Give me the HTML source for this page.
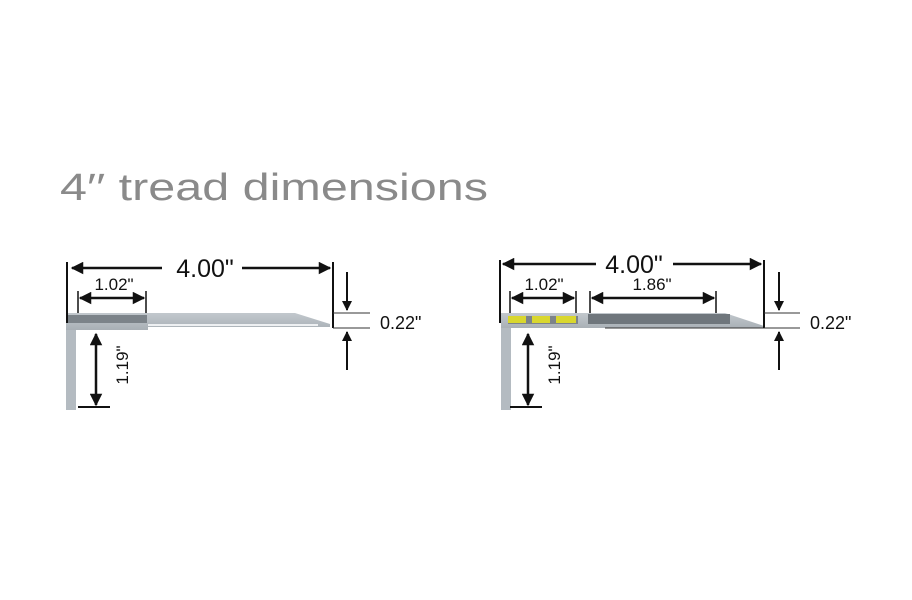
<!DOCTYPE html>
<html><head><meta charset="utf-8"><style>
html,body{margin:0;padding:0;background:#fff;width:912px;height:600px;overflow:hidden}
svg{display:block}
text{font-family:"Liberation Sans",sans-serif}
</style></head><body>
<svg width="912" height="600" viewBox="0 0 912 600" xmlns="http://www.w3.org/2000/svg">
<defs>
<marker id="a" viewBox="0 0 10 10" refX="9" refY="5" markerWidth="5.5" markerHeight="5" orient="auto-start-reverse">
<path d="M0,0 L10,5 L0,10 z" fill="#111"/></marker>
<linearGradient id="g" x1="0" x2="0" y1="0" y2="1"><stop offset="0" stop-color="#c2c8cd"/><stop offset="1" stop-color="#a9b0b6"/></linearGradient>
</defs>
<text x="60" y="200" font-size="38" fill="#8a8a8a" textLength="428" lengthAdjust="spacingAndGlyphs">4′′ tread dimensions</text>

<!-- LEFT -->
<g>
<rect x="66" y="313" width="10" height="97" fill="#b4bbc1"/>
<path d="M66,313 L295,313 L330,324 L330,327 L148,327 L148,330 L66,330 z" fill="url(#g)"/>
<rect x="68" y="315" width="79" height="8" fill="#7c8389"/>
<rect x="148" y="324" width="170" height="2" fill="#eef0f2"/>
<line x1="67" y1="262" x2="67" y2="323" stroke="#111" stroke-width="2"/>
<line x1="333" y1="262" x2="333" y2="328" stroke="#111" stroke-width="2"/>
<line x1="72" y1="268" x2="162" y2="268" stroke="#111" stroke-width="2.5" marker-start="url(#a)"/>
<line x1="242" y1="268" x2="330" y2="268" stroke="#111" stroke-width="2.5" marker-end="url(#a)"/>
<text x="205" y="277" font-size="25" text-anchor="middle" fill="#111">4.00"</text>
<line x1="78" y1="291" x2="78" y2="313" stroke="#111" stroke-width="1.5"/>
<line x1="146" y1="291" x2="146" y2="313" stroke="#111" stroke-width="1.5"/>
<line x1="80" y1="298" x2="144" y2="298" stroke="#111" stroke-width="2.5" marker-start="url(#a)" marker-end="url(#a)"/>
<text x="114" y="290" font-size="17" text-anchor="middle" fill="#111">1.02"</text>
<line x1="333" y1="313" x2="370" y2="313" stroke="#333" stroke-width="1"/>
<line x1="333" y1="328" x2="370" y2="328" stroke="#333" stroke-width="1"/>
<line x1="347" y1="272" x2="347" y2="310" stroke="#111" stroke-width="2" marker-end="url(#a)"/>
<line x1="347" y1="370" x2="347" y2="332" stroke="#111" stroke-width="2" marker-end="url(#a)"/>
<text x="380" y="329" font-size="18" fill="#111">0.22"</text>
<line x1="96" y1="334" x2="96" y2="405" stroke="#111" stroke-width="2.5" marker-start="url(#a)" marker-end="url(#a)"/>
<line x1="78" y1="407" x2="110" y2="407" stroke="#111" stroke-width="2"/>
<text transform="translate(128,365) rotate(-90)" font-size="17" text-anchor="middle" fill="#111">1.19"</text>
</g>

<!-- RIGHT -->
<g>
<rect x="501" y="313" width="10" height="97" fill="#b4bbc1"/>
<path d="M501,313 L725,313 L764,326 L764,328 L501,328 z" fill="url(#g)"/>
<rect x="508" y="316" width="70" height="8" fill="#7c8389"/>
<rect x="508" y="316" width="18" height="7" fill="#d9d72e"/>
<rect x="532" y="316" width="18" height="7" fill="#d9d72e"/>
<rect x="556" y="316" width="20" height="7" fill="#d9d72e"/>
<rect x="588" y="314" width="142" height="10" fill="#6f767c"/>
<line x1="605" y1="328" x2="764" y2="328" stroke="#333" stroke-width="1"/>
<line x1="500" y1="260" x2="500" y2="323" stroke="#111" stroke-width="2"/>
<line x1="764" y1="260" x2="764" y2="328" stroke="#111" stroke-width="2"/>
<line x1="503" y1="264" x2="596" y2="264" stroke="#111" stroke-width="2.5" marker-start="url(#a)"/>
<line x1="673" y1="264" x2="761" y2="264" stroke="#111" stroke-width="2.5" marker-end="url(#a)"/>
<text x="634" y="273" font-size="25" text-anchor="middle" fill="#111">4.00"</text>
<line x1="510" y1="291" x2="510" y2="313" stroke="#111" stroke-width="1.5"/>
<line x1="576" y1="291" x2="576" y2="313" stroke="#111" stroke-width="1.5"/>
<line x1="512" y1="298" x2="574" y2="298" stroke="#111" stroke-width="2.5" marker-start="url(#a)" marker-end="url(#a)"/>
<text x="544" y="290" font-size="17" text-anchor="middle" fill="#111">1.02"</text>
<line x1="590" y1="291" x2="590" y2="313" stroke="#111" stroke-width="1.5"/>
<line x1="716" y1="291" x2="716" y2="313" stroke="#111" stroke-width="1.5"/>
<line x1="592" y1="298" x2="714" y2="298" stroke="#111" stroke-width="2.5" marker-start="url(#a)" marker-end="url(#a)"/>
<text x="652" y="290" font-size="17" text-anchor="middle" fill="#111">1.86"</text>
<line x1="764" y1="313" x2="800" y2="313" stroke="#333" stroke-width="1"/>
<line x1="764" y1="328" x2="800" y2="328" stroke="#333" stroke-width="1"/>
<line x1="779" y1="272" x2="779" y2="310" stroke="#111" stroke-width="2" marker-end="url(#a)"/>
<line x1="779" y1="370" x2="779" y2="332" stroke="#111" stroke-width="2" marker-end="url(#a)"/>
<text x="810" y="329" font-size="18" fill="#111">0.22"</text>
<line x1="528" y1="334" x2="528" y2="405" stroke="#111" stroke-width="2.5" marker-start="url(#a)" marker-end="url(#a)"/>
<line x1="510" y1="407" x2="542" y2="407" stroke="#111" stroke-width="2"/>
<text transform="translate(560,365) rotate(-90)" font-size="17" text-anchor="middle" fill="#111">1.19"</text>
</g>
</svg>
</body></html>
